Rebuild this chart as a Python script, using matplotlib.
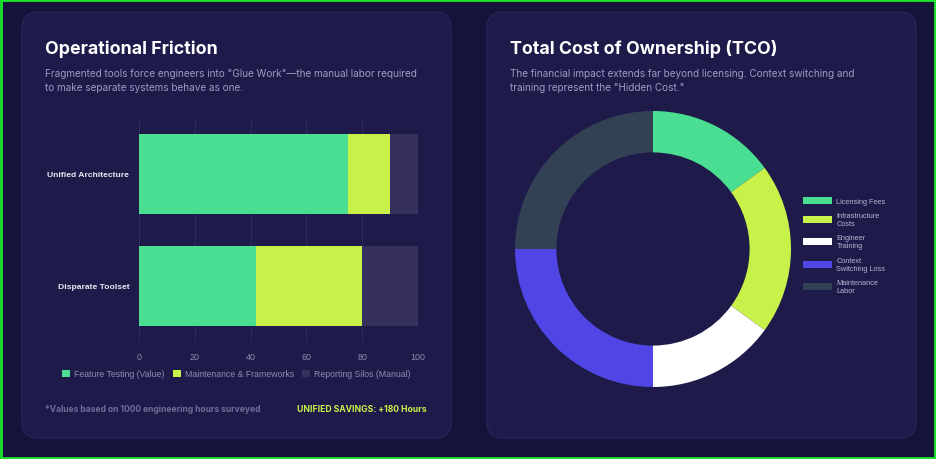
import matplotlib.pyplot as plt
from matplotlib.patches import FancyBboxPatch, Rectangle

# bar chart data
categories = ['Unified Architecture', 'Disparate Toolset']
feature_testing = [75, 42]
maintenance = [15, 38]
reporting_silos = [10, 20]
bar_series = ['Feature Testing (Value)', 'Maintenance & Frameworks', 'Reporting Silos (Manual)']
bar_colors = ['#4ade93', '#c8f24a', '#35315c']
x_ticks = [0, 20, 40, 60, 80, 100]

# donut data
tco_labels = ['Licensing Fees', 'Infrastructure\nCosts', 'Engineer\nTraining',
              'Context\nSwitching Loss', 'Maintenance\nLabor']
tco_values = [15, 20, 15, 25, 25]
tco_colors = ['#4ade93', '#c8f24a', '#ffffff', '#4f46e5', '#334155']

W, H = 936, 460
PAGE = '#16133a'
CARD = '#1e1b4b'
SUB = '#9a9cc0'
TICK = '#8a8db0'


def px(x, y, w, h):
    return [x / W, 1 - (y + h) / H, w / W, h / H]


fig = plt.figure(figsize=(W / 100, H / 100), dpi=100, facecolor=PAGE)

# background layer in pixel coordinates
bg = fig.add_axes([0, 0, 1, 1], zorder=0)
bg.set_xlim(0, W)
bg.set_ylim(H, 0)
bg.axis('off')
bg.add_patch(Rectangle((1, 1), W - 2, H - 2, fill=False, edgecolor='#19e62a', lw=2))
for x0 in (22, 487):
    bg.add_patch(FancyBboxPatch((x0, 13), 429, 426,
                                boxstyle='round,pad=0,rounding_size=16',
                                facecolor=CARD, edgecolor='#29265c', lw=0.8))

# titles and subtitles
bg.text(45, 49, 'Operational Friction', color='white', fontsize=12.8,
        fontweight='bold', family='Inter', va='center')
bg.text(45, 74, 'Fragmented tools force engineers into "Glue Work"\u2014the manual labor required',
        color=SUB, fontsize=7.2, family='Inter', va='center')
bg.text(45, 88, 'to make separate systems behave as one.',
        color=SUB, fontsize=7.2, family='Inter', va='center')

bg.text(510, 49, 'Total Cost of Ownership (TCO)', color='white', fontsize=12.8,
        fontweight='bold', family='Inter', va='center')
bg.text(510, 74, 'The financial impact extends far beyond licensing. Context switching and',
        color=SUB, fontsize=7.2, family='Inter', va='center')
bg.text(510, 88, 'training represent the "Hidden Cost."',
        color=SUB, fontsize=7.2, family='Inter', va='center')

# footer
bg.text(45, 410, '*Values based on 1000 engineering hours surveyed', color='#6d6f98',
        fontsize=6.1, fontweight='bold', family='Inter', va='center')
bg.text(427, 410, 'UNIFIED SAVINGS: +180 Hours', color='#c8f24a',
        fontsize=6.2, fontweight='bold', family='Inter', va='center', ha='right')

# stacked horizontal bars
ax = fig.add_axes(px(139, 119, 279, 224), zorder=1)
ax.set_facecolor('none')
left = [0, 0]
handles = []
for name, vals, col in zip(bar_series, [feature_testing, maintenance, reporting_silos], bar_colors):
    b = ax.barh(categories, vals, left=left, height=0.72, color=col, label=name)
    handles.append(b)
    left = [l + v for l, v in zip(left, vals)]
ax.set_xlim(0, 100)
ax.set_ylim(1.5, -0.5)
ax.set_xticks(x_ticks)
ax.tick_params(axis='x', length=0, pad=7, labelsize=6.4, labelcolor=TICK)
ax.tick_params(axis='y', length=0, pad=7, labelsize=6.1, labelcolor='#e8e8f2')
for lab in ax.get_xticklabels():
    lab.set_family('Liberation Sans')
for lab in ax.get_yticklabels():
    lab.set_family('Liberation Sans')
    lab.set_fontweight('bold')
for s in ax.spines.values():
    s.set_visible(False)
ax.grid(axis='x', color='#2d2a5e', lw=0.8)
ax.set_axisbelow(True)

fig.legend(handles=handles, loc='center', bbox_to_anchor=(236.5 / W, 1 - 375 / H),
           ncol=3, frameon=False, labelcolor=TICK,
           handlelength=0.9, handleheight=0.9, handletextpad=0.5, columnspacing=0.9,
           prop={'family': 'Liberation Sans', 'size': 6.3})

# donut
ax2 = fig.add_axes(px(515, 112, 276, 276), zorder=1)
wedges, _ = ax2.pie(tco_values, colors=tco_colors, startangle=90, counterclock=False,
                    wedgeprops=dict(width=0.3, edgecolor='none'))
ax2.set_xlim(-1, 1)
ax2.set_ylim(-1, 1)
ax2.set_aspect('equal')
ax2.legend(wedges, tco_labels, loc='upper left', bbox_to_anchor=(796 / W, 1 - 191 / H),
           bbox_transform=fig.transFigure, frameon=False, labelcolor='#b4b6cf',
           prop={'family': 'Liberation Sans', 'size': 5.3},
           handlelength=4.0, handleheight=1.1, handletextpad=0.6, labelspacing=1.0)

fig.savefig('out.png', dpi=100, facecolor=PAGE)
